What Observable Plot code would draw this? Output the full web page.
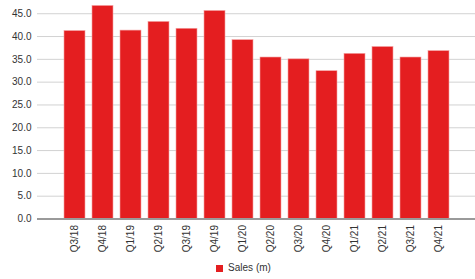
<!DOCTYPE html>
<html>
<head>
<meta charset="utf-8">
<script src="https://cdn.jsdelivr.net/npm/d3@7"></script>
<script src="https://cdn.jsdelivr.net/npm/@observablehq/plot@0.6"></script>
<style>
  html, body { margin: 0; padding: 0; background: #fff; }
  body { width: 475px; height: 279px; overflow: hidden; font-family: "Liberation Sans", Arial, sans-serif; }
  #legend { height: 21px; display: flex; justify-content: center; align-items: flex-start; font-size: 10px; color: #333; padding-left: 12px; }
  #legend .sw { width: 7px; height: 7px; background: #e41e20; margin: 7px 5px 0 0; }
  #legend .lbl { margin-top: 4px; }
</style>
</head>
<body>
<div id="chart"></div>
<div id="legend"><div class="sw"></div><div class="lbl">Sales (m)</div></div>
<script>
const quarters = ["Q3/18","Q4/18","Q1/19","Q2/19","Q3/19","Q4/19","Q1/20","Q2/20","Q3/20","Q4/20","Q1/21","Q2/21","Q3/21","Q4/21"];
const sales = [41.2, 46.7, 41.3, 43.2, 41.7, 45.6, 39.2, 35.4, 35.0, 32.4, 36.2, 37.7, 35.4, 36.8];
const yTicks = [0, 5, 10, 15, 20, 25, 30, 35, 40, 45];
const seriesName = "Sales (m)";

const data = quarters.map((q, i) => ({quarter: q, value: sales[i]}));

const chart = Plot.plot({
  width: 475,
  height: 258,
  marginLeft: 37,
  marginRight: 0,
  marginTop: 0,
  marginBottom: 39.5,
  style: {fontFamily: "Liberation Sans, Arial, sans-serif", fontSize: "10px", color: "#333", background: "#fff"},
  x: {type: "band", domain: quarters, padding: 0.24, insetLeft: 18, insetRight: 16, label: null},
  y: {domain: [0, 47.9], label: null},
  marks: [
    Plot.ruleY(yTicks.filter(d => d > 0), {stroke: "#d2d2d2", strokeWidth: 1}),
    Plot.barY(data, {x: "quarter", y: "value", fill: "#e41e20", stroke: "#f4a0a0", strokeWidth: 0.6}),
    Plot.ruleY([0], {stroke: "#9a9a9a", strokeWidth: 2}),
    Plot.axisY({ticks: yTicks, tickSize: 0, tickPadding: 6, tickFormat: d3.format(".1f"), label: null, fill: "#333"}),
    Plot.axisX({tickSize: 0, tickPadding: 6, tickRotate: -90, label: null, fill: "#333"})
  ]
});
document.getElementById("chart").appendChild(chart);
document.querySelector("#legend .lbl").textContent = seriesName;
</script>
</body>
</html>
